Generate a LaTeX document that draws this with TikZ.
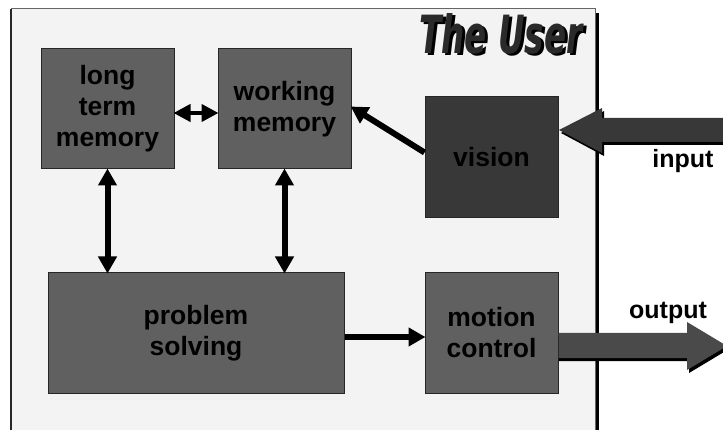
\documentclass[tikz,border=0pt]{standalone}
\usepackage{fontspec}
\setmainfont{Liberation Sans}
\newfontfamily\titlefont{DejaVu Sans Condensed Bold Oblique}
\usetikzlibrary{arrows.meta,calc}
\definecolor{framefill}{HTML}{F3F3F3}
\definecolor{boxgray}{HTML}{606060}
\definecolor{boxdark}{HTML}{383838}
\definecolor{outgray}{HTML}{4A4A4A}
\definecolor{titlefill}{HTML}{2A2A2A}
\newcommand{\usertitle}{\resizebox{163pt}{40pt}{\titlefont The User}}
\begin{document}
\begin{tikzpicture}[x=1pt,y=-1pt,
  blk/.style={draw=black!85,line width=1pt,fill=boxgray,minimum width=133pt,minimum height=120pt,
    inner sep=0pt,align=center,font=\fontsize{26.5}{31}\selectfont\bfseries,text=black},
  dbl/.style={line width=6pt,{Triangle[width=18pt,length=17pt]}-{Triangle[width=18pt,length=17pt]},shorten <=-1pt,shorten >=-1pt},
  sgl/.style={line width=6pt,-{Triangle[width=18pt,length=17pt]},shorten >=-1pt},
  lbl/.style={font=\fontsize{25}{28}\selectfont\bfseries,text=black,inner sep=0pt}]
\useasboundingbox (0,0) rectangle (723,430);
\clip (0,0) rectangle (723,430);
% frame
\fill[black] (15,13) rectangle (599,440);
\draw[fill=framefill,draw=black!60,line width=1pt] (11,9) rectangle (595,440);
\draw[black!85,line width=1.5pt] (11,9) -- (11,440);
% title (shadow + letters in one node)
\node[inner sep=0pt] (title) at (501,35) {\rlap{\kern3pt\raisebox{-2.5pt}{\color{black}\usertitle}}\textcolor{titlefill}{\usertitle}};
% boxes
\node[blk] (ltm) at (107.5,109) {long\\term\\memory};
\node[blk] (wm) at (284.5,109) {working\\memory};
\node[blk,fill=boxdark,minimum height=121pt] (vis) at (491.5,157.5) {vision};
\node[blk,minimum width=296pt] (ps) at (196,333) {problem\\solving};
\node[blk] (mc) at (491.5,333) {motion\\control};
% connectors
\draw[dbl] (ltm.south) -- (ltm.south |- ps.north);
\draw[dbl] (wm.south) -- (wm.south |- ps.north);
\draw[line width=4pt,{Triangle[width=17pt,length=17pt]}-{Triangle[width=17pt,length=17pt]},shorten <=-1pt,shorten >=-1pt] ([yshift=-4pt]ltm.east) -- ([yshift=-4pt]wm.west);
\draw[sgl] ([yshift=5pt]vis.west) -- ([yshift=2pt]wm.east);
\draw[sgl] ([yshift=-4pt]ps.east) -- ([yshift=-4pt]mc.west);
% input block arrow
\coordinate (intip) at (559,130);
\fill[black] ($(intip)+(2,3)$) -- (604,111) -- (604,121) -- (730,121) -- (730,145) -- (604,145) -- (604,156) -- cycle;
\fill[boxdark] (intip) -- (602,108) -- (602,118) -- (730,118) -- (730,142) -- (602,142) -- (602,153) -- cycle;
\node[lbl] (inlbl) at (683,161) {input};
% output block arrow
\coordinate (outtip) at (727,346);
\fill[black] (mc.east |- 0,336) -- (689,336) -- (689,325) -- ($(outtip)+(2,3)$) -- (689,373) -- (689,361) -- (mc.east |- 0,361) -- cycle;
\fill[outgray] (mc.east |- 0,333) -- (687,333) -- (687,322) -- (outtip) -- (687,370) -- (687,358) -- (mc.east |- 0,358) -- cycle;
\node[lbl] (outlbl) at (668,313) {output};
\end{tikzpicture}
\end{document}
